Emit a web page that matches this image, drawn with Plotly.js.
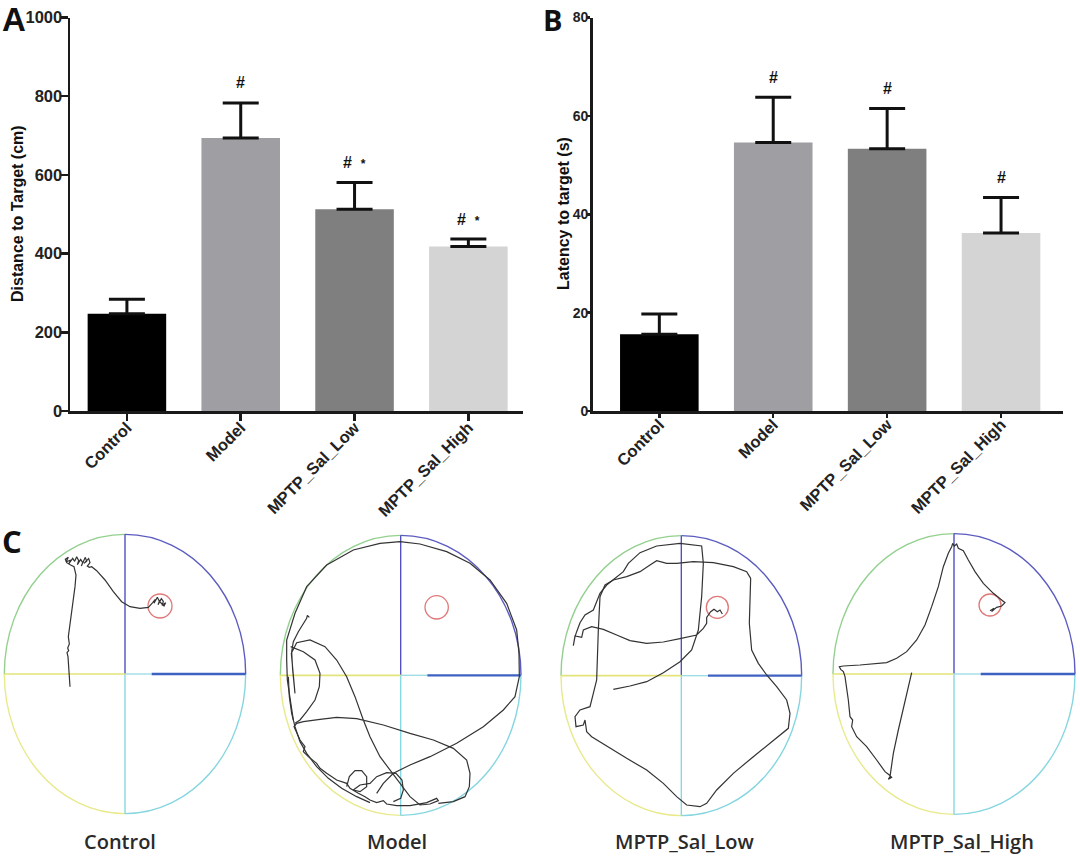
<!DOCTYPE html>
<html><head><meta charset="utf-8">
<script src="https://cdn.plot.ly/plotly-3.0.1.min.js"></script>
<style>html,body{margin:0;padding:0;background:#fff}#chart{width:1080px;height:856px}</style>
</head><body><div id="chart"></div>
<script>
// ---------- data ----------
const groups = ['Control', 'Model', 'MPTP_Sal_Low', 'MPTP_Sal_High'];
const distanceMean = [247, 694, 513, 418];
const distanceSem = [37, 89, 68, 19];
const latencyMean = [15.6, 54.6, 53.3, 36.2];
const latencySem = [4.1, 9.2, 8.2, 7.2];
const distanceMarks = ['', '#', '# \u00a0<span style="font-size:12px">*</span>', '# \u00a0<span style="font-size:12px">*</span>'];
const latencyMarks = ['', '#', '#', '#'];
const distanceTitle = 'Distance to Target (cm)';
const latencyTitle = 'Latency to target (s)';

// swim paths (tracking-camera coordinates, y pointing down); null = break between segments
const controlPathX = [210,207,204,201,206,203,208,205,212,220,225,228,222,212,200,196,205,198,212,206,218,224,230,236,232,242,248,244,256,260,252,266,270,262,268,275,290,315,340,365,390,420,445,458,466,462,472,478,474,484,490,486,497,492,485,480,478];
const controlPathY = [500,440,410,398,392,384,372,350,300,250,200,165,140,135,128,118,112,126,120,132,115,124,110,122,134,118,128,138,112,124,130,116,128,138,142,140,152,180,215,245,260,265,262,248,238,250,232,244,254,236,244,256,248,258,252,246,240];

const modelPathX = [70,60,52,50,50,75,110,170,250,330,390,450,530,600,660,710,740,747,748,735,700,640,560,480,420,370,340,320, null,
  118,112,110,100,85,70,65,68,72,75,70,64,80,120,165,200,230,255,280,300,330,360,390,420,450,480,505,500,470,420,380,350,340,320,300,285,265,240,230,200,170,150,140,115,100,105,90,80,72,80,100,150,200,260,340,420,490,550,590,600,598,585,550,505, null,
  62,100,135,150,148,135,110,90,75, null,
  230,238,255,275,290,290,270,250,270,300,320,350,378,396,400,392,370, null,
  55,58,65,75,90,110,140,175,215,260,300];
const modelPathY = [600,540,480,420,360,280,200,135,90,70,65,72,95,130,180,250,330,400,470,530,570,620,670,710,735,760,790,820, null,
  292,286,295,312,335,365,395,450,500,520,470,400,368,360,380,420,470,530,600,650,710,750,790,830,855,852,842,835,848,857,857,852,842,848,840,830,820,805,790,780,760,745,730,710,695,680,660,640,620,610,605,598,592,596,615,640,660,685,720,760,800,830,845,850, null,
  380,395,420,460,500,540,575,600,610, null,
  800,770,752,752,770,800,815,810,795,790,770,758,760,780,810,835,845, null,
  470,530,580,620,665,700,740,775,805,830,848];

const lowPathX = [220,270,320,370,420,455,475,485,490,485,420,350,300,265,250,220,200,180,170,160,135,120,110,105,100,
  105,125,130,155,190,230,270,320,370,420,470,490,500,500,512,522,532,540,547, null,
  632,620,580,520,460,410,380,350,330,300,260,220,195,180,175,172,170,160,150,120,105,108,130,135,140,155,210,260,320,370,410,440,480,500,530,580,640,700,745,750,740,710,680,655,635,628,630,632];
const lowPathY = [508,498,485,458,425,390,330,230,130,78,70,78,98,130,155,180,195,220,245,270,285,308,335,350,377,
  348,352,330,320,328,345,362,370,366,356,345,325,310,292,275,268,275,270,282, null,
  175,155,140,128,125,130,130,122,135,155,170,180,195,230,330,430,480,520,560,570,590,620,615,600,635,650,685,715,750,790,830,855,860,850,810,760,710,660,625,580,540,500,465,430,390,310,230,175];

const highPathX = [305,295,280,265,250,240,235,245,238,225,200,170,140,125,128,120,115,110,105,100,92,88,100,150,200,230,260,290,320,345,365,385,400,415,425,428,433,440,445,460,475,495,520,550,575,585,575,560,550,545,552,540];
const highPathY = [458,500,560,630,700,770,778,772,765,755,720,680,650,620,600,590,540,500,470,455,448,440,438,435,432,428,415,395,360,315,260,200,140,100,80,70,78,72,85,92,120,155,190,220,240,248,258,262,270,275,265,272];

// ---------- styling / geometry ----------
const barColors = ['#000000', '#9e9ea3', '#7f7f7f', '#d4d4d4'];
const FONT = 'Liberation Sans, Arial, sans-serif';
const AXC = '#1a1a1a';
const pools = [
  {ax: '3', cx: 375, cy: 462, rx: 362, ry: 419, tx: 480, ty: 258, tr: 36, lx: 360, name: groups[0], px: controlPathX, py: controlPathY},
  {ax: '4', cx: 392, cy: 466, rx: 361, ry: 420, tx: 500, ty: 262, tr: 35, lx: 380, name: groups[1], px: modelPathX, py: modelPathY},
  {ax: '5', cx: 424, cy: 467, rx: 361, ry: 420, tx: 532, ty: 262, tr: 33, lx: 435, name: groups[2], px: lowPathX, py: lowPathY},
  {ax: '6', cx: 432, cy: 462, rx: 363, ry: 421, tx: 540, ty: 255, tr: 33, lx: 457, name: groups[3], px: highPathX, py: highPathY}
];

const traces = [];
const shapes = [];
const annotations = [];

function barTrace(vals, errs, xa, ya) {
  return {
    type: 'bar', x: groups, y: vals, xaxis: xa, yaxis: ya, width: 0.69,
    marker: {color: barColors, line: {width: 0}},
    error_y: {type: 'data', symmetric: false, array: errs, arrayminus: errs.map(() => 0),
              color: '#111', thickness: 3, width: 18},
    hoverinfo: 'x+y', showlegend: false
  };
}
traces.push(barTrace(distanceMean, distanceSem, 'x', 'y'));
traces.push(barTrace(latencyMean, latencySem, 'x2', 'y2'));

const markFont = {family: FONT, size: 16, weight: 'bold', color: '#111'};
groups.forEach((g, i) => {
  if (distanceMarks[i]) annotations.push({xref: 'x', yref: 'y', x: g, y: distanceMean[i] + distanceSem[i],
    yshift: 20, text: distanceMarks[i], showarrow: false, font: markFont});
  if (latencyMarks[i]) annotations.push({xref: 'x2', yref: 'y2', x: g, y: latencyMean[i] + latencySem[i],
    yshift: 20, text: latencyMarks[i], showarrow: false, font: markFont});
});

// y-axis titles (placed as rotated text beside each axis)
const titleFont = {family: FONT, size: 16, weight: 'bold', color: '#111'};
annotations.push({xref: 'paper', yref: 'paper', x: 17 / 1080, y: 1 - 214 / 856, xanchor: 'center', yanchor: 'middle',
  textangle: -90, text: distanceTitle, showarrow: false, font: titleFont});
annotations.push({xref: 'paper', yref: 'paper', x: 563 / 1080, y: 1 - 214 / 856, xanchor: 'center', yanchor: 'middle',
  textangle: -90, text: latencyTitle, showarrow: false, font: titleFont});

const K = 0.5523;
pools.forEach(p => {
  const xr = 'x' + p.ax, yr = 'y' + p.ax;
  const {cx, cy, rx, ry} = p;
  const arc = (d, c) => shapes.push({type: 'path', xref: xr, yref: yr, path: d, line: {color: c, width: 1.4}, layer: 'below'});
  arc(`M${cx},${cy - ry} C${cx - K * rx},${cy - ry} ${cx - rx},${cy - K * ry} ${cx - rx},${cy}`, '#93d08e');
  arc(`M${cx},${cy - ry} C${cx + K * rx},${cy - ry} ${cx + rx},${cy - K * ry} ${cx + rx},${cy}`, '#5c5cc0');
  arc(`M${cx - rx},${cy} C${cx - rx},${cy + K * ry} ${cx - K * rx},${cy + ry} ${cx},${cy + ry}`, '#e9e98c');
  arc(`M${cx + rx},${cy} C${cx + rx},${cy + K * ry} ${cx + K * rx},${cy + ry} ${cx},${cy + ry}`, '#86d6e0');
  const seg = (x0, y0, x1, y1, c, w) => shapes.push({type: 'line', xref: xr, yref: yr, x0, y0, x1, y1, line: {color: c, width: w}, layer: 'below'});
  seg(cx, cy - ry, cx, cy, '#5050c4', 1.4);
  seg(cx, cy, cx, cy + ry, '#86d8e2', 1.4);
  seg(cx - rx, cy, cx, cy, '#e3e37a', 1.6);
  seg(cx, cy, cx + 80, cy, '#9fdde6', 1.4);
  seg(cx + 80, cy, cx + rx, cy, '#3f62c2', 2.4);
  shapes.push({type: 'circle', xref: xr, yref: yr, x0: p.tx - p.tr, x1: p.tx + p.tr, y0: p.ty - p.tr, y1: p.ty + p.tr,
    line: {color: '#e07878', width: 1.3}, layer: 'below'});
  traces.push({type: 'scatter', mode: 'lines', x: p.px, y: p.py, xaxis: xr, yaxis: yr, connectgaps: false,
    line: {color: '#333333', width: 1.2}, hoverinfo: 'skip', showlegend: false});
  annotations.push({xref: xr, yref: yr, x: p.lx, y: 965, text: p.name, showarrow: false,
    font: {family: 'Open Sans, Noto Sans, sans-serif', size: 20, weight: 600, color: '#2a2a2a'}});
});

// panel letters
annotations.push({xref: 'paper', yref: 'paper', x: 0, y: 1 - 20 / 856, xanchor: 'left', yanchor: 'middle',
  text: 'A', showarrow: false, font: {family: FONT, size: 33, weight: 'bold', color: '#111'}});
annotations.push({xref: 'paper', yref: 'paper', x: 541 / 1080, y: 1 - 20 / 856, xanchor: 'left', yanchor: 'middle',
  text: 'B', showarrow: false, font: {family: 'Open Sans, sans-serif', size: 29, weight: 'bold', color: '#111'}});
annotations.push({xref: 'paper', yref: 'paper', x: 0, y: 1 - 541 / 856, xanchor: 'left', yanchor: 'middle',
  text: 'C', showarrow: false, font: {family: 'Open Sans, sans-serif', size: 31, weight: 'bold', color: '#111'}});

const tickFontA = {family: FONT, size: 16.5, weight: 'bold', color: '#222'};
const tickFontB = {family: FONT, size: 14, weight: 'bold', color: '#222'};
function catAxis(domain, range, anchor, tl) {
  return {domain, range, anchor, type: 'category', tickangle: -45, tickfont: tickFontA,
    showline: true, linewidth: 2.5, linecolor: AXC, ticks: 'outside', ticklen: tl, tickwidth: 2.5, tickcolor: AXC,
    ticklabelstandoff: -9,
    showgrid: false, zeroline: false, fixedrange: true, automargin: false};
}
function valAxis(domain, range, dtick, anchor, tl, so, tf) {
  return {domain, range, anchor, dtick, tickfont: tf,
    showline: true, linewidth: 2.5, linecolor: AXC, ticks: 'outside', ticklen: tl, tickwidth: 2.5, tickcolor: AXC,
    ticklabelstandoff: so,
    showgrid: false, zeroline: false, fixedrange: true, automargin: false};
}
const yTop = [1 - 411 / 856, 1 - 17.5 / 856];
const layout = {
  width: 1080, height: 856, margin: {l: 0, r: 0, t: 0, b: 0},
  paper_bgcolor: '#ffffff', plot_bgcolor: 'rgba(0,0,0,0)', showlegend: false,
  xaxis: catAxis([70 / 1080, 523 / 1080], [-0.5, 3.48], 'y', 7),
  yaxis: valAxis(yTop, [0, 1000], 200, 'x', 7, -5, tickFontA),
  xaxis2: catAxis([592.7 / 1080, 1063 / 1080], [-0.585, 3.544], 'y2', 4),
  yaxis2: valAxis(yTop, [0, 80], 20, 'x2', 3, -4, tickFontB),
  shapes, annotations
};
pools.forEach((p, i) => {
  layout['xaxis' + p.ax] = {domain: [i * 0.25, (i + 1) * 0.25], range: [0, 810], visible: false, fixedrange: true, anchor: 'y' + p.ax};
  layout['yaxis' + p.ax] = {domain: [0, 336 / 856], range: [1008, 0], visible: false, fixedrange: true, anchor: 'x' + p.ax};
});

Plotly.newPlot('chart', traces, layout, {displayModeBar: false, staticPlot: true});
</script>
</body></html>
